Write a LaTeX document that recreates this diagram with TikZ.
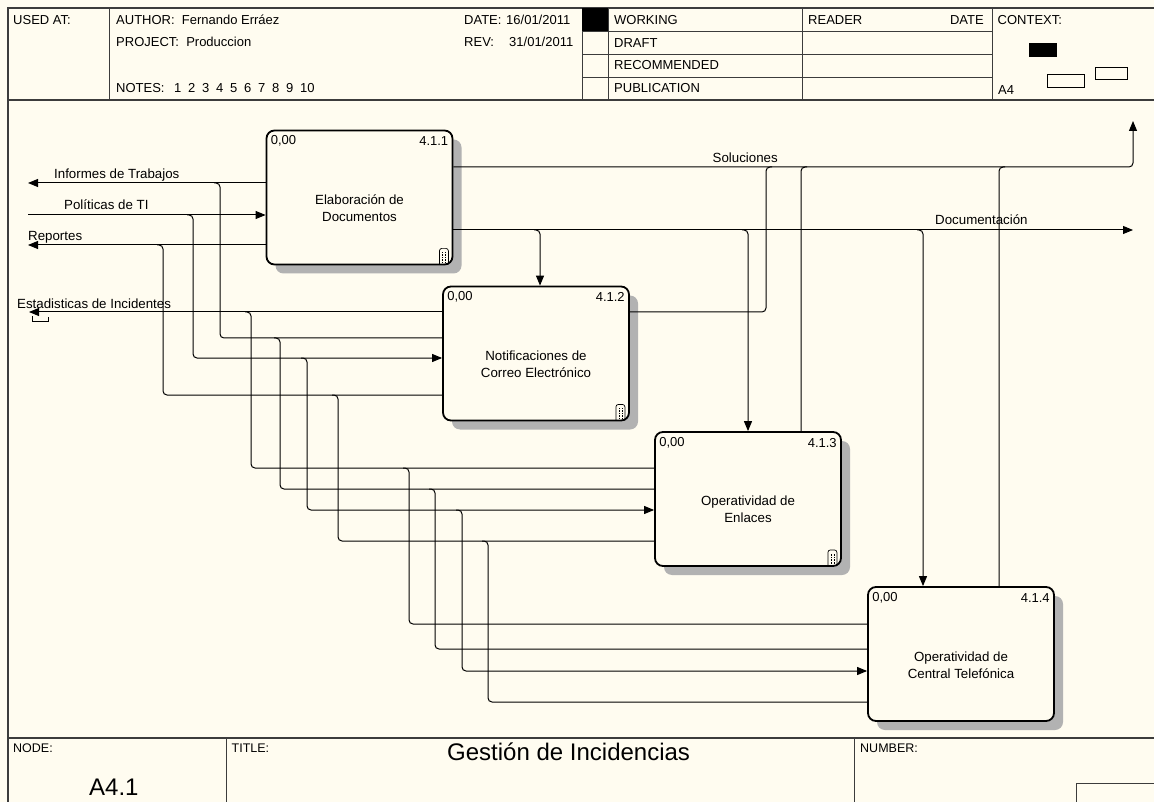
\documentclass[tikz,border=0pt]{standalone}
\usepackage{fontspec}
\setmainfont{Liberation Sans}
\usetikzlibrary{arrows.meta,shadows,calc}
\definecolor{paper}{RGB}{255,252,240}
\definecolor{rule}{RGB}{60,60,60}
\begin{document}
\begin{tikzpicture}[x=1pt,y=-1pt,
  frame/.style={draw=rule, line width=1.2pt},
  grid/.style={draw=rule, line width=0.9pt},
  fn/.style={draw=black, line width=1.8pt, fill=paper, rounded corners=8pt,
    minimum width=186pt, minimum height=134pt, inner sep=0pt,
    drop shadow={shadow xshift=9pt, shadow yshift=-9pt, fill=black!30, opacity=1}},
  conn/.style={draw=black, line width=1pt, rounded corners=4pt},
  tip/.style={-{Triangle[length=10pt,width=8pt]}},
  hdr/.style={font=\fontsize{13}{15}\selectfont, inner sep=0pt, anchor=base west},
  lbl/.style={font=\fontsize{13.3}{16}\selectfont, inner sep=0pt, anchor=base west},
  corner/.style={font=\fontsize{13}{15}\selectfont, inner sep=0pt},
  fntext/.style={font=\fontsize{13.3}{16.7}\selectfont, align=center, inner sep=0pt},
  tunnelicon/.pic={
    \draw[line width=0.7pt, rounded corners=2.5pt] (-4.5,0) -- (-4.5,-16) -- (4.5,-16) -- (4.5,0);
    \draw[densely dotted, line width=0.6pt] (-1.6,-2) -- (-1.6,-13) (1.6,-2) -- (1.6,-13);
  }
]
% sheet and clipping
\useasboundingbox (0,0) rectangle (1154,802);
\fill[paper] (0,0) rectangle (1154,802);
\clip (0,0) rectangle (1154,802);

% ---------- form frame ----------
\draw[frame] (8,830) -- (8,8) -- (1180,8);
\draw[frame] (8,100) -- (1180,100);
\draw[frame] (8,738) -- (1180,738);
\foreach \x in {109,582,608,802,992} \draw[grid] (\x,8) -- (\x,100);
\foreach \y in {31,54,77} \draw[grid] (582,\y) -- (992,\y);
\fill[black] (582,8) rectangle (608,31);
\draw[grid] (226,738) -- (226,830);
\draw[grid] (854,738) -- (854,830);
\draw[grid] (1076,783) rectangle (1190,830);

% context miniature
\fill[black] (1029,43) rectangle (1057,57);
\draw[line width=0.9pt] (1095,67) rectangle (1127,79);
\draw[line width=0.9pt] (1047,74) rectangle (1084,87);

% header texts
\node[hdr] (usedat) at (13,24.5) {USED AT:};
\node[hdr] (author) at (116,24.5) {AUTHOR:\ \ Fernando Erráez};
\node[hdr] (project) at (116,47) {PROJECT:\ \ Produccion};
\node[hdr] (notes) at (116,93) {NOTES:};
\foreach \n [count=\i] in {1,...,9} \node[hdr] (note\i) at (174+14*\i-14,93) {\n};
\node[hdr] (note10) at (300,93) {10};
\node[hdr] (date) at (464,24.5) {DATE:};
\node[hdr] (dateval) at (506,24.5) {16/01/2011};
\node[hdr] (rev) at (464,47) {REV:};
\node[hdr] (revval) at (509,47) {31/01/2011};
\node[hdr] (working) at (614,24.5) {WORKING};
\node[hdr] (draft) at (614,47.3) {DRAFT};
\node[hdr] (recommended) at (614,69.7) {RECOMMENDED};
\node[hdr] (publication) at (614,93) {PUBLICATION};
\node[hdr] (reader) at (808,24.5) {READER};
\node[hdr, anchor=base east] (readerdate) at (984,24.5) {DATE};
\node[hdr] (context) at (997.5,24.5) {CONTEXT:};
\node[hdr] (ctxa) at (998,95) {A4};

% footer texts
\node[hdr, font=\fontsize{12.5}{14}\selectfont] (nodelbl) at (13,752.5) {NODE:};
\node[hdr, font=\fontsize{12.5}{14}\selectfont] (titlelbl) at (231.5,752.5) {TITLE:};
\node[hdr, font=\fontsize{12.5}{14}\selectfont] (numberlbl) at (860,752.5) {NUMBER:};
\node[hdr, font=\fontsize{24}{28}\selectfont] (nodeid) at (89,795) {A4.1};
\node[hdr, font=\fontsize{24}{28}\selectfont] (title) at (447,760) {Gestión de Incidencias};

% ---------- activity boxes ----------
\node[fn] (b1) at (359.5,197.5) {};
\node[fn] (b2) at (536,353.5) {};
\node[fn] (b3) at (748,499) {};
\node[fn] (b4) at (961,654) {};

\node[fntext] (t1) at ($(b1.center)+(0,11)$) {Elaboración de\\Documentos};
\node[fntext] (t2) at ($(b2.center)+(0,11)$) {Notificaciones de\\Correo Electrónico};
\node[fntext] (t3) at ($(b3.center)+(0,10)$) {Operatividad de\\Enlaces};
\node[fntext] (t4) at ($(b4.center)+(0,11)$) {Operatividad de\\Central Telefónica};

\foreach \b/\num in {b1/4.1.1, b2/4.1.2, b3/4.1.3, b4/4.1.4} {
  \node[corner, anchor=west] (\b cost) at ($(\b.north west)+(5,11.5)$) {0,00};
  \node[corner, anchor=east] (\b num) at ($(\b.north east)+(-5,11.5)$) {\num};
}
\foreach \b in {b1,b2,b3} \pic at ($(\b.south east)+(-9.5,-1)$) {tunnelicon};

% ---------- boundary ends ----------
\coordinate (infL) at (28,183);
\coordinate (polL) at (28,215);
\coordinate (repL) at (28,245);
\coordinate (estL) at (29,312);
\coordinate (solE) at (1133,121);
\coordinate (docE) at (1133,230);

% ---------- arrows on the left side ----------
\draw[conn,tip] (infL -| b1.west) -- (infL);
\draw[conn,tip] (polL) -- (polL -| b1.west);
\draw[conn,tip] (repL -| b1.west) -- (repL);
\draw[conn,tip] (estL -| b2.west) -- (estL);
\draw[line width=0.8pt] (32,316) -- (32,321) -- (48,321) -- (48,317);

% Informes de Trabajos feeding the lower boxes
\draw[conn] (214,183) -- (220,183) -- (220,338) -- (b2.west |- 0,338);
\draw[conn] (274,338) -- (280,338) -- (280,489) -- (b3.west |- 0,489);
\draw[conn] (429,489) -- (435,489) -- (435,649) -- (b4.west |- 0,649);
% Politicas de TI
\draw[conn,tip] (187,215) -- (193,215) -- (193,358) -- (b2.west |- 0,358);
\draw[conn,tip] (301,358) -- (307,358) -- (307,510) -- (b3.west |- 0,510);
\draw[conn,tip] (456,510) -- (462,510) -- (462,671) -- (b4.west |- 0,671);
% Reportes
\draw[conn] (157,245) -- (163,245) -- (163,395) -- (b2.west |- 0,395);
\draw[conn] (332,395) -- (338,395) -- (338,541) -- (b3.west |- 0,541);
\draw[conn] (482,541) -- (488,541) -- (488,702) -- (b4.west |- 0,702);
% Estadisticas de Incidentes
\draw[conn] (245,312) -- (251,312) -- (251,468) -- (b3.west |- 0,468);
\draw[conn] (403,468) -- (409,468) -- (409,624) -- (b4.west |- 0,624);

% ---------- arrows on the right side ----------
\draw[conn,tip] (b1.east |- 0,167) -- (1133,167) -- (solE);
\draw[conn,tip] (b1.east |- 0,230) -- (docE);
% Documentacion down to the boxes
\draw[conn,tip] (534,230) -- (540,230) -- (540,0 |- b2.north);
\draw[conn,tip] (742,230) -- (748,230) -- (748,0 |- b3.north);
\draw[conn,tip] (917,230) -- (923,230) -- (923,0 |- b4.north);
% Soluciones collected from the boxes
\draw[conn] (b2.east |- 0,312) -- (766,312) -- (766,167) -- (772,167);
\draw[conn] (801,0 |- b3.north) -- (801,167) -- (807,167);
\draw[conn] (999,0 |- b4.north) -- (999,167) -- (1005,167);

% ---------- connector labels ----------
\node[lbl] (linf) at (54,178.8) {Informes de Trabajos};
\node[lbl] (lpol) at (64,209.8) {Políticas de TI};
\node[lbl] (lrep) at (28,240.8) {Reportes};
\node[lbl] (lest) at (17,308.8) {Estadisticas de Incidentes};
\node[lbl] (lsol) at (712.5,162.8) {Soluciones};
\node[lbl] (ldoc) at (935,224.8) {Documentación};
\end{tikzpicture}
\end{document}
